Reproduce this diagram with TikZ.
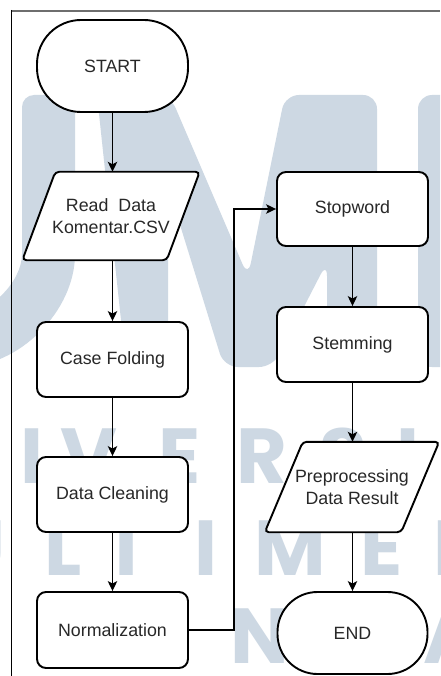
\documentclass[tikz,border=0pt]{standalone}
\usepackage{fontspec}
\setmainfont{Liberation Sans}
\newfontfamily\wmfont{Poppins}
\usetikzlibrary{arrows.meta,calc}
\definecolor{wm}{RGB}{205,216,227}
\definecolor{txt}{RGB}{40,40,40}
\definecolor{framegray}{RGB}{110,110,110}
\begin{document}
\begin{tikzpicture}[x=1pt,y=-1pt,
  lbl/.style={text=txt,font=\fontsize{17.8}{21.5}\selectfont,align=center},
  box/.style={lbl,draw=black,line width=1.9pt,fill=white,rounded corners=9pt,
    minimum width=151pt,minimum height=75pt,inner sep=0pt},
  term/.style={box,rounded corners=44pt},
  paracore/.style={lbl,draw=none,minimum width=144pt,minimum height=88pt,inner sep=0pt},
  parashape/.style={draw=black,line width=1.9pt,fill=white,rounded corners=4pt},
  arr/.style={draw=black,line width=1.3pt,-{Stealth[length=10pt,width=9.5pt,inset=2.5pt]}},
  wmtext/.style={text=wm,font=\wmfont\bfseries\fontsize{78}{78}\selectfont,anchor=base,inner sep=0pt}
]
\useasboundingbox (0,0) rectangle (440,676);
\fill[white] (0,0) rectangle (440,676);

% ---- watermark ----
\begin{scope}
\clip (0,0) rectangle (440,676);
\fill[wm,rounded corners=12pt] (75,242) arc[start angle=0,end angle=90,radius=125]
  -- (-50,314) arc[start angle=90,end angle=0,radius=72] -- (22,242) -- (22,95) -- (75,95) -- cycle;
\fill[wm,rounded corners=14pt] (126,367) -- (97,95) -- (170,95) -- (248,277) -- (285,95)
  -- (377,95) -- (377,367) -- (327,367) -- (327,262) -- (273,367) -- (224,367)
  -- (168,186) -- (168,367) -- cycle;
\fill[wm,rounded corners=14pt] (418,367) -- (418,95) -- (480,95) -- (480,367) -- cycle;
\node[wmtext] (w1) at (32.5,483) {I};
\node[wmtext] (w2) at (88.5,483) {V};
\node[wmtext] (w3) at (180,483) {E};
\node[wmtext] (w4) at (261.5,483) {R};
\node[wmtext] (w5) at (343.5,483) {S};
\node[wmtext] (w6) at (408,483) {I};
\node[wmtext] (w7) at (-22,575) {U};
\node[wmtext] (w8) at (63.5,575) {L};
\node[wmtext] (w9) at (127,575) {T};
\node[wmtext] (w10) at (206.5,575) {I};
\node[wmtext] (w11) at (290,575) {M};
\node[wmtext] (w12) at (381.5,575) {E};
\node[wmtext] (w13) at (462,575) {D};
\node[wmtext] (w16) at (260,663) {N};
\node[wmtext] (w18) at (452,663) {A};
\end{scope}

% ---- frame ----
\draw[framegray,line width=2pt] (11,11) -- (440,11);
\draw[black,line width=1.1pt] (11.5,10) -- (11.5,676);

% ---- nodes ----
\node[term,minimum height=92pt] (start) at (112.5,66) {START};
\node[paracore] (rd) at (111,216) {};
\draw[parashape] ($(rd.north west)+(16.5,0)$) -- ($(rd.north east)+(16.5,0)$)
  -- ($(rd.south east)+(-16.5,0)$) -- ($(rd.south west)+(-16.5,0)$) -- cycle;
\node[lbl] (rdt) at (rd.center) {Read~~Data\\Komentar.CSV};
\node[box] (cf) at (112.5,359.5) {Case Folding};
\node[box] (dc) at (112.5,494.5) {Data Cleaning};
\node[box,minimum height=76pt] (nm) at (112.5,630) {Normalization};

\node[box,minimum height=74pt] (sw) at (352.5,209) {Stopword};
\node[box] (sm) at (352.5,344.5) {Stemming};
\node[paracore,minimum width=136pt,minimum height=90pt] (pp) at (352,487) {};
\draw[parashape] ($(pp.north west)+(19,0)$) -- ($(pp.north east)+(19,0)$)
  -- ($(pp.south east)+(-19,0)$) -- ($(pp.south west)+(-19,0)$) -- cycle;
\node[lbl] (ppt) at (pp.center) {Preprocessing\\Data Result};
\node[term,minimum width=150pt,minimum height=82pt,rounded corners=40pt] (end) at (352.5,633) {END};

% ---- connectors ----
\draw[arr] (start.south) -- (start.south |- rd.north);
\draw[arr] (rd.south -| cf.north) -- (cf.north);
\draw[arr] (cf.south) -- (dc.north);
\draw[arr] (dc.south) -- (nm.north);
\draw[arr] (nm.east) -- ++(45,0) |- (sw.west);
\draw[arr] (sw.south) -- (sm.north);
\draw[arr] (sm.south) -- (sm.south |- pp.north);
\draw[arr] (pp.south -| end.north) -- (end.north);
\end{tikzpicture}
\end{document}
